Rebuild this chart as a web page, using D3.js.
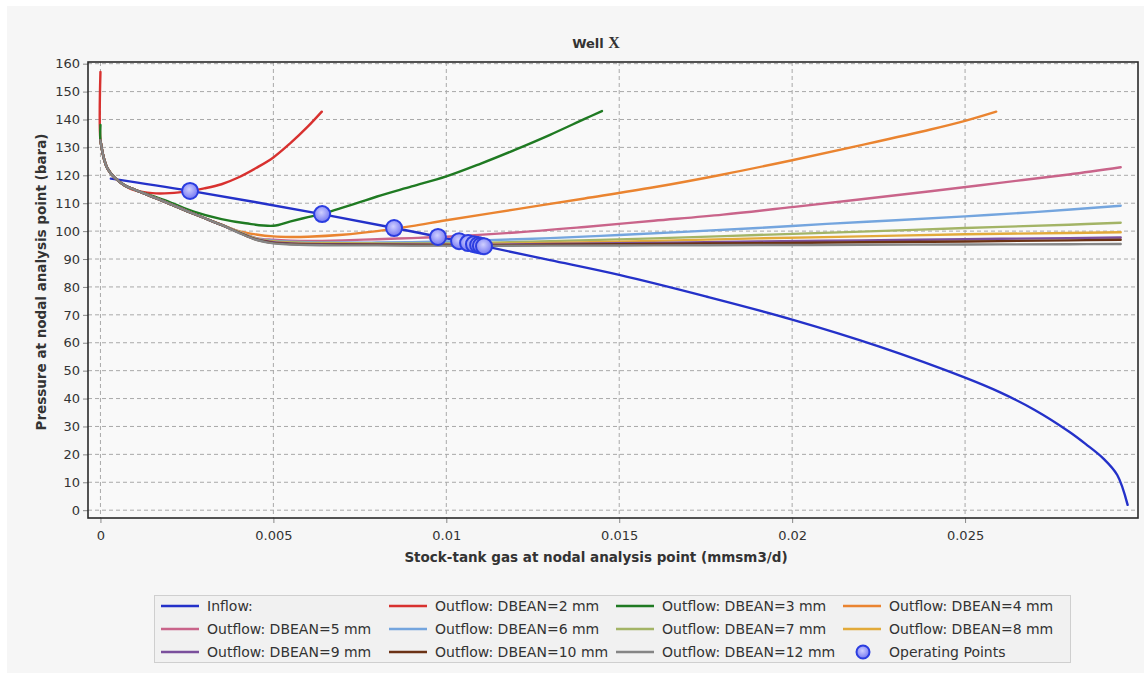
<!DOCTYPE html>
<html>
<head>
<meta charset="utf-8">
<script src="https://cdn.jsdelivr.net/npm/d3@7/dist/d3.min.js"></script>
<style>
  html, body { margin: 0; padding: 0; background: #ffffff; }
  svg { display: block; }
  text { font-family: "DejaVu Sans", Verdana, sans-serif; fill: #333; }
</style>
</head>
<body>
<svg id="chart" width="1144" height="673"></svg>
<script>
// ---------------- DATA ----------------
const chartTitle = "Well ";
const chartTitleSuffix = "X";
const xAxisTitle = "Stock-tank gas at nodal analysis point (mmsm3/d)";
const yAxisTitle = "Pressure at nodal analysis point (bara)";

const xTicks = [0, 0.005, 0.01, 0.015, 0.02, 0.025];
const xTickLabels = ["0", "0.005", "0.01", "0.015", "0.02", "0.025"];
const yTicks = [0, 10, 20, 30, 40, 50, 60, 70, 80, 90, 100, 110, 120, 130, 140, 150, 160];

const seriesNames = ["Inflow:", "Outflow: DBEAN=2 mm", "Outflow: DBEAN=3 mm", "Outflow: DBEAN=4 mm",
  "Outflow: DBEAN=5 mm", "Outflow: DBEAN=6 mm", "Outflow: DBEAN=7 mm", "Outflow: DBEAN=8 mm",
  "Outflow: DBEAN=9 mm", "Outflow: DBEAN=10 mm", "Outflow: DBEAN=12 mm"];
const seriesColors = ["#2431c9", "#d8312f", "#1f7a22", "#ea8430", "#c9648a", "#74a5de",
  "#a3b466", "#e2aa3a", "#7a4f9c", "#6b3215", "#858585"];
const opLabel = "Operating Points";

// [q (mmsm3/d), p (bara)]
const inflow = [[0.0003,118.8],[0.0026,114.4],[0.0064,106.1],[0.0085,101.1],[0.0098,97.9],[0.0111,94.6],
  [0.013,89.6],[0.015,84.3],[0.0175,76.6],[0.02,68.3],[0.0225,58.7],[0.025,47.5],[0.026,42.3],
  [0.027,36.0],[0.028,28.2],[0.0285,23.6],[0.029,18.5],[0.0294,12.6],[0.0297,1.9]];

const outflow2 = [[0,157],[0,132.5],[0.0001,126],[0.0002,122.5],[0.0004,119.3],[0.0007,116.3],[0.001,114.6],
  [0.0015,113.6],[0.002,113.6],[0.0026,114.4],[0.003,115.3],[0.0035,116.8],[0.004,119.3],[0.0045,122.6],
  [0.005,126.4],[0.0055,131.6],[0.006,137.5],[0.0064,142.8]];

const outflow3 = [[0,138],[0,132.5],[0.0001,126],[0.0002,122.5],[0.0004,119.3],[0.0007,116.4],[0.001,114.8],
  [0.0015,112.6],[0.002,110.4],[0.0027,107.0],[0.0035,104.3],[0.0042,102.8],[0.005,101.9],[0.0055,103.5],
  [0.006,105.0],[0.0065,106.5],[0.007,108.4],[0.0075,110.4],[0.008,112.4],[0.009,116.0],[0.01,119.6],
  [0.011,124.2],[0.012,129.2],[0.013,134.5],[0.014,140.2],[0.0145,143.0]];

const outflow4 = [[0,132.5],[0.0001,126],[0.0002,122.5],[0.0004,119.3],[0.0007,116.4],[0.001,114.8],
  [0.0015,112.3],[0.002,109.8],[0.0025,107.2],[0.003,104.7],[0.0035,102.3],[0.004,100.0],[0.0045,98.8],
  [0.005,98.1],[0.0055,97.9],[0.006,98.0],[0.007,98.7],[0.008,100.0],[0.009,101.8],[0.01,103.9],
  [0.012,107.8],[0.014,111.7],[0.016,115.7],[0.018,120.3],[0.02,125.4],[0.022,130.8],[0.024,136.4],
  [0.025,139.5],[0.0259,142.8]];

const outflow5 = [[0,132.5],[0.0001,126],[0.0002,122.5],[0.0004,119.3],[0.0007,116.4],[0.001,114.8],
  [0.0015,112.3],[0.002,109.8],[0.0025,107.2],[0.003,104.7],[0.0035,102.2],[0.004,99.8],[0.0045,97.5],
  [0.005,96.9],[0.0055,96.6],[0.006,96.5],[0.007,96.7],[0.008,97.1],[0.009,97.5],[0.01,98.0],
  [0.012,99.5],[0.014,101.5],[0.016,103.7],[0.018,105.9],[0.02,108.6],[0.022,111.4],[0.024,114.3],
  [0.026,117.3],[0.028,120.3],[0.0295,122.9]];

const outflow6 = [[0,132.5],[0.0001,126],[0.0002,122.5],[0.0004,119.3],[0.0007,116.4],[0.001,114.8],
  [0.0015,112.3],[0.002,109.8],[0.0025,107.2],[0.003,104.7],[0.0035,102.2],[0.004,99.8],[0.0045,97.4],
  [0.005,96.6],[0.0055,96.2],[0.006,96.0],[0.007,95.9],[0.008,95.9],[0.009,96.0],[0.01,96.3],
  [0.011,96.7],[0.013,97.5],[0.015,98.6],[0.017,99.8],[0.019,101.1],[0.021,102.6],[0.023,103.9],
  [0.025,105.3],[0.027,106.8],[0.0295,109.1]];

const outflow7 = [[0,132.5],[0.0001,126],[0.0002,122.5],[0.0004,119.3],[0.0007,116.4],[0.001,114.8],
  [0.0015,112.3],[0.002,109.8],[0.0025,107.2],[0.003,104.7],[0.0035,102.2],[0.004,99.7],[0.0045,97.3],
  [0.005,96.4],[0.0055,96.0],[0.006,95.8],[0.007,95.7],[0.008,95.6],[0.009,95.6],[0.01,95.6],
  [0.011,95.8],[0.013,96.4],[0.016,97.4],[0.019,98.6],[0.022,99.8],[0.025,101.1],[0.028,102.3],
  [0.0295,103.0]];

const outflow8 = [[0,132.5],[0.0001,126],[0.0002,122.5],[0.0004,119.3],[0.0007,116.4],[0.001,114.8],
  [0.0015,112.3],[0.002,109.8],[0.0025,107.2],[0.003,104.7],[0.0035,102.2],[0.004,99.6],[0.0045,97.2],
  [0.005,96.2],[0.0055,95.8],[0.006,95.6],[0.007,95.5],[0.008,95.4],[0.009,95.4],[0.01,95.35],
  [0.011,95.35],[0.013,95.8],[0.016,96.5],[0.019,97.4],[0.022,98.1],[0.025,98.9],[0.028,99.3],
  [0.0295,99.6]];

const outflow9 = [[0,132.5],[0.0001,126],[0.0002,122.5],[0.0004,119.3],[0.0007,116.4],[0.001,114.8],
  [0.0015,112.3],[0.002,109.8],[0.0025,107.2],[0.003,104.7],[0.0035,102.2],[0.004,99.5],[0.0045,97.1],
  [0.005,96.0],[0.0055,95.6],[0.006,95.4],[0.007,95.3],[0.008,95.2],[0.009,95.2],[0.01,95.1],
  [0.011,95.05],[0.013,95.4],[0.016,95.8],[0.019,96.3],[0.022,96.7],[0.025,97.1],[0.028,97.5],
  [0.0295,97.7]];

const outflow10 = [[0,132.5],[0.0001,126],[0.0002,122.5],[0.0004,119.3],[0.0007,116.4],[0.001,114.8],
  [0.0015,112.3],[0.002,109.8],[0.0025,107.2],[0.003,104.7],[0.0035,102.2],[0.004,99.5],[0.0045,97.0],
  [0.005,95.8],[0.0055,95.4],[0.006,95.2],[0.007,95.1],[0.008,95.1],[0.009,95.0],[0.01,95.0],
  [0.011,94.9],[0.013,95.1],[0.016,95.4],[0.019,95.7],[0.022,96.0],[0.025,96.3],[0.028,96.7],
  [0.0295,96.9]];

const outflow12 = [[0,132.5],[0.0001,126],[0.0002,122.5],[0.0004,119.3],[0.0007,116.4],[0.001,114.8],
  [0.0015,112.3],[0.002,109.8],[0.0025,107.2],[0.003,104.7],[0.0035,102.2],[0.004,99.4],[0.0045,96.9],
  [0.005,95.6],[0.0055,95.2],[0.006,95.0],[0.007,94.9],[0.008,94.9],[0.009,94.8],[0.01,94.8],
  [0.011,94.7],[0.013,94.8],[0.016,94.9],[0.019,95.0],[0.022,95.1],[0.025,95.2],[0.028,95.3],
  [0.0295,95.4]];

const operatingQ = [0.00259, 0.00641, 0.00849, 0.00976, 0.01037, 0.01063, 0.0108, 0.01092, 0.011, 0.01109];
const operatingP = [114.4, 106.1, 101.1, 97.9, 96.4, 95.7, 95.3, 95.0, 94.8, 94.6];

const allSeries = [inflow, outflow2, outflow3, outflow4, outflow5, outflow6, outflow7, outflow8,
  outflow9, outflow10, outflow12];

// ---------------- LAYOUT ----------------
const W = 1144, H = 673;
const plot = { left: 88, right: 1138, top: 62, bottom: 518 };

const svg = d3.select("#chart");

// background panel
svg.append("rect").attr("x", 0).attr("y", 0).attr("width", W).attr("height", H).attr("fill", "#ffffff");
svg.append("rect").attr("x", 7).attr("y", 6).attr("width", W - 7).attr("height", H - 6).attr("fill", "#f6f6f6");

const x = d3.scaleLinear().domain([-0.00036, 0.0300]).range([plot.left, plot.right]);
const y = d3.scaleLinear().domain([-2.8, 160.6]).range([plot.bottom, plot.top]);

// plot background
svg.append("rect").attr("x", plot.left).attr("y", plot.top)
  .attr("width", plot.right - plot.left).attr("height", plot.bottom - plot.top)
  .attr("fill", "#f9f9f9");

// grid
const grid = svg.append("g");
grid.selectAll("line.h").data(yTicks).enter().append("line")
  .attr("x1", plot.left).attr("x2", plot.right)
  .attr("y1", d => y(d)).attr("y2", d => y(d))
  .attr("stroke", "#a9a9a9").attr("stroke-width", 1).attr("stroke-dasharray", "4,3");
grid.selectAll("line.v").data(xTicks).enter().append("line")
  .attr("y1", plot.top).attr("y2", plot.bottom)
  .attr("x1", d => x(d)).attr("x2", d => x(d))
  .attr("stroke", "#a9a9a9").attr("stroke-width", 1).attr("stroke-dasharray", "4,3");

// axes
const yAxis = d3.axisLeft(y).tickValues(yTicks).tickSize(5).tickPadding(3).tickFormat(d3.format("d"));
const gy = svg.append("g").attr("transform", `translate(${plot.left},0)`).call(yAxis);
gy.select(".domain").remove();
gy.selectAll(".tick line").attr("stroke", "#888");
gy.selectAll(".tick text").attr("font-size", 13).attr("fill", "#333")
  .attr("font-family", "DejaVu Sans, Verdana, sans-serif");

const xAxis = d3.axisBottom(x).tickValues(xTicks).tickSize(5).tickPadding(8)
  .tickFormat((d, i) => xTickLabels[i]);
const gx = svg.append("g").attr("transform", `translate(0,${plot.bottom})`).call(xAxis);
gx.select(".domain").remove();
gx.selectAll(".tick line").attr("stroke", "#888");
gx.selectAll(".tick text").attr("font-size", 13).attr("fill", "#333")
  .attr("font-family", "DejaVu Sans, Verdana, sans-serif");

// clip
svg.append("clipPath").attr("id", "clip").append("rect")
  .attr("x", plot.left).attr("y", plot.top)
  .attr("width", plot.right - plot.left).attr("height", plot.bottom - plot.top);

const line = d3.line().x(d => x(d[0])).y(d => y(d[1])).curve(d3.curveCatmullRom.alpha(0.5));

const lines = svg.append("g").attr("clip-path", "url(#clip)");
allSeries.forEach((s, i) => {
  lines.append("path").datum(s).attr("d", line)
    .attr("fill", "none").attr("stroke", seriesColors[i])
    .attr("stroke-width", 2.4).attr("stroke-linejoin", "round").attr("stroke-linecap", "round");
});

// operating points
const defs = svg.append("defs");
const grad = defs.append("radialGradient").attr("id", "opGrad").attr("cx", "45%").attr("cy", "40%").attr("r", "60%");
grad.append("stop").attr("offset", "0%").attr("stop-color", "#cfcfff");
grad.append("stop").attr("offset", "100%").attr("stop-color", "#7477f2");

const ops = operatingQ.map((q, i) => [q, operatingP[i]]);
lines.selectAll("circle.op").data(ops).enter().append("circle")
  .attr("cx", d => x(d[0])).attr("cy", d => y(d[1])).attr("r", 8)
  .attr("fill", "url(#opGrad)").attr("stroke", "#2b3de0").attr("stroke-width", 2);

// frame
svg.append("rect").attr("x", plot.left).attr("y", plot.top)
  .attr("width", plot.right - plot.left).attr("height", plot.bottom - plot.top)
  .attr("fill", "none").attr("stroke", "#2a2a2a").attr("stroke-width", 1.6);

// title
const t = svg.append("text").attr("x", 596).attr("y", 48).attr("text-anchor", "middle")
  .attr("font-size", 13).attr("font-weight", "bold").attr("fill", "#111");
t.append("tspan").text(chartTitle);
t.append("tspan").attr("font-family", "Liberation Serif, DejaVu Serif, serif").attr("font-size", 16).text(chartTitleSuffix);

// axis titles
svg.append("text").attr("x", 596).attr("y", 562).attr("text-anchor", "middle")
  .attr("font-size", 13.5).attr("font-weight", "bold").attr("fill", "#222").text(xAxisTitle);
svg.append("text").attr("transform", "translate(46,282) rotate(-90)").attr("text-anchor", "middle")
  .attr("font-size", 13.5).attr("font-weight", "bold").attr("fill", "#222").text(yAxisTitle);

// legend
const lg = svg.append("g");
lg.append("rect").attr("x", 154.5).attr("y", 595.5).attr("width", 916).attr("height", 67)
  .attr("fill", "#f1f1f1").attr("stroke", "#cfcfcf");
const colX = [161, 389, 616, 843];
const rowY = [606, 629, 652];
const legendItems = seriesNames.map((n, i) => ({ name: n, color: seriesColors[i], type: "line" }));
legendItems.push({ name: opLabel, type: "op" });
legendItems.forEach((it, i) => {
  const cx = colX[i % 4], cy = rowY[Math.floor(i / 4)];
  if (it.type === "line") {
    lg.append("line").attr("x1", cx).attr("x2", cx + 38).attr("y1", cy).attr("y2", cy)
      .attr("stroke", it.color).attr("stroke-width", 2.5);
  } else {
    lg.append("circle").attr("cx", cx + 20).attr("cy", cy).attr("r", 6.5)
      .attr("fill", "url(#opGrad)").attr("stroke", "#2b3de0").attr("stroke-width", 2);
  }
  lg.append("text").attr("x", cx + 46).attr("y", cy + 5).attr("font-size", 14).attr("fill", "#333").text(it.name);
});
</script>
</body>
</html>
